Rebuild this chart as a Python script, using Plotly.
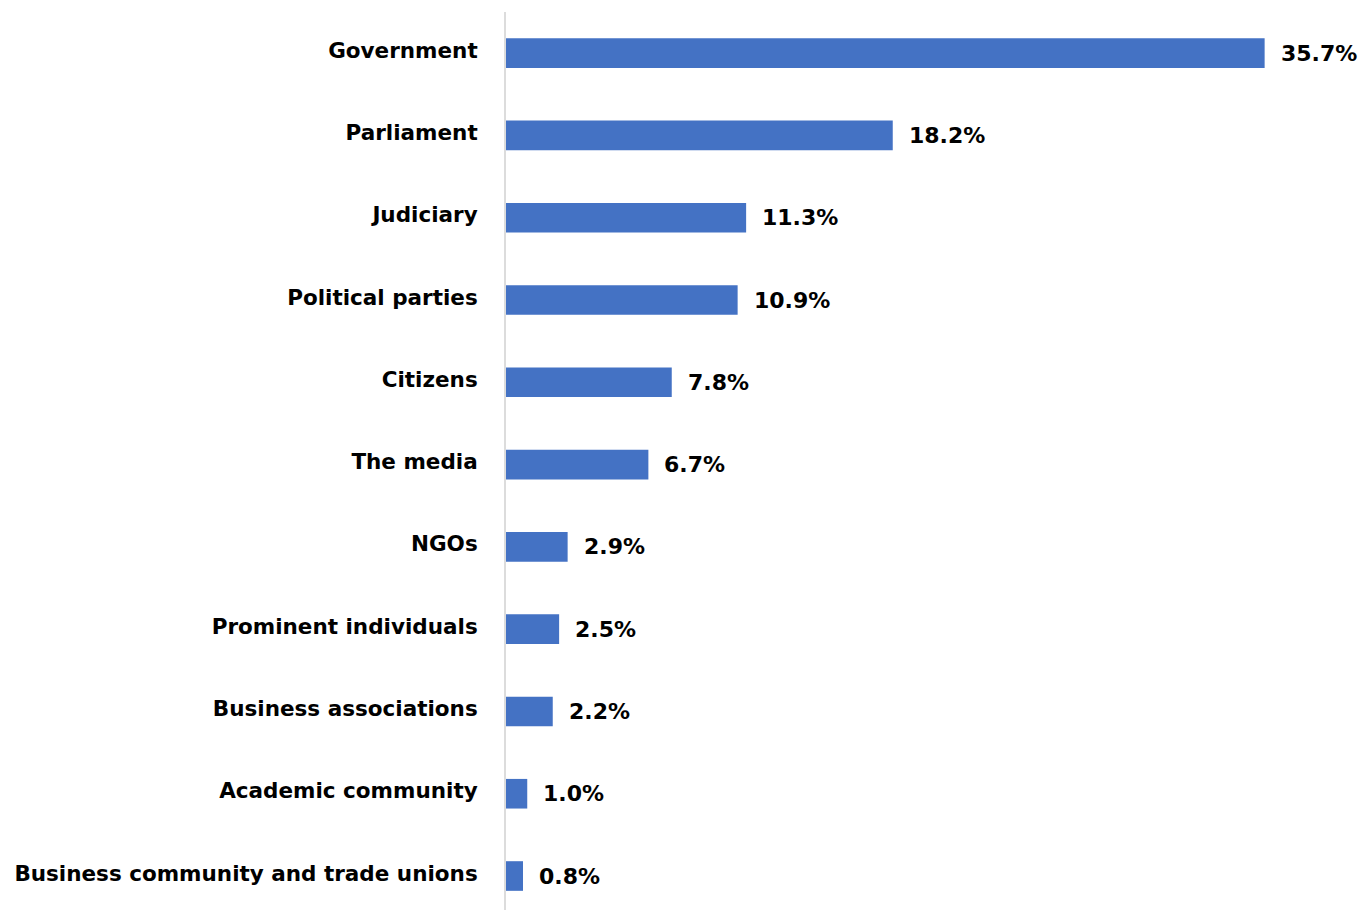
import plotly.graph_objects as go

# Categories listed top to bottom, with their shares in percent
categories = [
    "Government",
    "Parliament",
    "Judiciary",
    "Political parties",
    "Citizens",
    "The media",
    "NGOs",
    "Prominent individuals",
    "Business associations",
    "Academic community",
    "Business community and trade unions",
]
shares = [35.7, 18.2, 11.3, 10.9, 7.8, 6.7, 2.9, 2.5, 2.2, 1.0, 0.8]

BAR_COLOR = "#4472C4"
FONT = "DejaVu Sans"

# Plotly draws the first category at the bottom, so reverse the order
cats_plot = categories[::-1]
vals_plot = shares[::-1]

fig = go.Figure(
    go.Bar(
        x=vals_plot,
        y=cats_plot,
        orientation="h",
        marker=dict(color=BAR_COLOR, line=dict(width=0)),
        width=0.36,
        hoverinfo="skip",
    )
)

# Value labels to the right of each bar
for c, v in zip(cats_plot, vals_plot):
    fig.add_annotation(
        x=v,
        y=c,
        text=f"{v:.1f}%",
        showarrow=False,
        xanchor="left",
        yanchor="middle",
        xshift=14,
        yshift=0,
        font=dict(family=FONT, size=22, color="#000000", weight="bold"),
    )

fig.update_layout(
    width=1365,
    height=910,
    margin=dict(l=506, r=9, t=12, b=0),
    paper_bgcolor="white",
    plot_bgcolor="white",
    showlegend=False,
    bargap=0.64,
    xaxis=dict(
        range=[0, 40],
        showgrid=False,
        zeroline=False,
        showticklabels=False,
        showline=False,
        ticks="",
    ),
    yaxis=dict(
        type="category",
        categoryorder="array",
        categoryarray=cats_plot,
        range=[-0.413, 10.5],
        showgrid=False,
        zeroline=False,
        showline=True,
        linecolor="#dcdcdc",
        linewidth=2,
        ticks="",
        ticklabelstandoff=22,
        ticklabelshift=-3,
        tickfont=dict(family=FONT, size=21.5, color="#000000", weight="bold"),
    ),
)

fig.write_html("out.html")
